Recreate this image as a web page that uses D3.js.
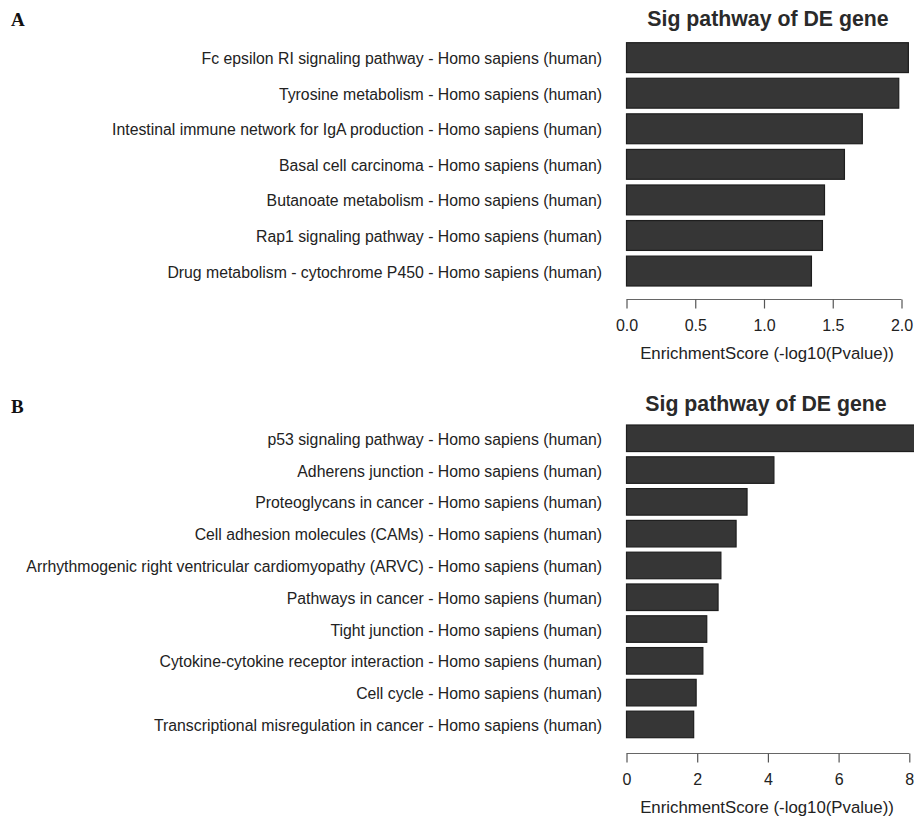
<!DOCTYPE html>
<html><head><meta charset="utf-8">
<script src="https://cdn.jsdelivr.net/npm/d3@7"></script>
<style>body{margin:0;background:#fff}svg{display:block}</style>
</head><body>
<script>
const titleText = "Sig pathway of DE gene";
const axisTitle = "EnrichmentScore (-log10(Pvalue))";

const pathwaysA = [
  "Fc epsilon RI signaling pathway - Homo sapiens (human)",
  "Tyrosine metabolism - Homo sapiens (human)",
  "Intestinal immune network for IgA production - Homo sapiens (human)",
  "Basal cell carcinoma - Homo sapiens (human)",
  "Butanoate metabolism - Homo sapiens (human)",
  "Rap1 signaling pathway - Homo sapiens (human)",
  "Drug metabolism - cytochrome P450 - Homo sapiens (human)"
];
const scoresA = [2.05, 1.98, 1.715, 1.585, 1.44, 1.425, 1.345];
const ticksA = [0, 0.5, 1.0, 1.5, 2.0];

const pathwaysB = [
  "p53 signaling pathway - Homo sapiens (human)",
  "Adherens junction - Homo sapiens (human)",
  "Proteoglycans in cancer - Homo sapiens (human)",
  "Cell adhesion molecules (CAMs) - Homo sapiens (human)",
  "Arrhythmogenic right ventricular cardiomyopathy (ARVC) - Homo sapiens (human)",
  "Pathways in cancer - Homo sapiens (human)",
  "Tight junction - Homo sapiens (human)",
  "Cytokine-cytokine receptor interaction - Homo sapiens (human)",
  "Cell cycle - Homo sapiens (human)",
  "Transcriptional misregulation in cancer - Homo sapiens (human)"
];
const scoresB = [8.3, 4.17, 3.41, 3.10, 2.67, 2.59, 2.27, 2.16, 1.97, 1.90];
const ticksB = [0, 2, 4, 6, 8];

const W = 914, H = 823;
const svg = d3.select("body").append("svg").attr("width", W).attr("height", H);
const sans = "Liberation Sans, Arial, sans-serif";

function panel(cfg) {
  const g = svg.append("g");
  const x = d3.scaleLinear().domain(cfg.domain).range([626.5, cfg.xEnd]);
  const y = d3.scaleBand().domain(cfg.names).range([cfg.top, cfg.bottom]).paddingInner(cfg.pad).paddingOuter(0);

  g.append("text").attr("x", 11).attr("y", cfg.letterY)
    .attr("font-family", "Liberation Serif, Times New Roman, serif")
    .attr("font-weight", "bold").attr("font-size", 19).attr("fill", "#111")
    .text(cfg.letter);

  g.append("text").attr("x", cfg.titleX).attr("y", cfg.titleY)
    .attr("text-anchor", "middle")
    .attr("font-family", sans)
    .attr("font-weight", "bold").attr("font-size", 21.3).attr("fill", "#2a2a2a")
    .text(titleText);

  g.selectAll("rect.bar").data(cfg.values).join("rect")
    .attr("class", "bar")
    .attr("x", x(0)).attr("y", (d, i) => y(cfg.names[i]))
    .attr("width", d => x(d) - x(0)).attr("height", y.bandwidth())
    .attr("fill", "#363636").attr("stroke", "#1e1e1e").attr("stroke-width", 1.2);

  g.selectAll("text.lab").data(cfg.names).join("text")
    .attr("class", "lab")
    .attr("x", 602).attr("y", d => y(d) + y.bandwidth() / 2 + 1)
    .attr("dy", "0.35em").attr("text-anchor", "end")
    .attr("font-family", sans)
    .attr("font-size", 15.8).attr("fill", "#222")
    .text(d => d);

  const ax = g.append("g").attr("transform", `translate(0,${cfg.axisY})`)
    .call(d3.axisBottom(x).tickValues(cfg.ticks).tickSize(9).tickPadding(11)
      .tickSizeOuter(0).tickFormat(cfg.fmt));
  ax.select(".domain").attr("stroke", "#666").attr("stroke-width", 1.2)
    .attr("d", `M${x(cfg.ticks[0])},0H${x(cfg.ticks[cfg.ticks.length-1])}`);
  ax.selectAll(".tick line").attr("stroke", "#555").attr("stroke-width", 1.2);
  ax.selectAll(".tick text").attr("font-family", sans)
    .attr("font-size", 16).attr("fill", "#222");

  g.append("text").attr("x", 767).attr("y", cfg.axisTitleY)
    .attr("text-anchor", "middle")
    .attr("font-family", sans)
    .attr("font-size", 16.8).attr("fill", "#222")
    .text(axisTitle);
}

panel({
  letter: "A", letterY: 26, titleX: 768, titleY: 26,
  names: pathwaysA, values: scoresA, domain: [0, 2], xEnd: 901.5,
  top: 42.7, bottom: 286, pad: 0.16, ticks: ticksA,
  fmt: d3.format(".1f"), axisY: 299.5, axisTitleY: 359
});

panel({
  letter: "B", letterY: 413, titleX: 766, titleY: 411,
  names: pathwaysB, values: scoresB, domain: [0, 8], xEnd: 909.3,
  top: 425, bottom: 737.7, pad: 0.165, ticks: ticksB,
  fmt: d3.format("d"), axisY: 753.5, axisTitleY: 813
});
</script>
</body></html>
